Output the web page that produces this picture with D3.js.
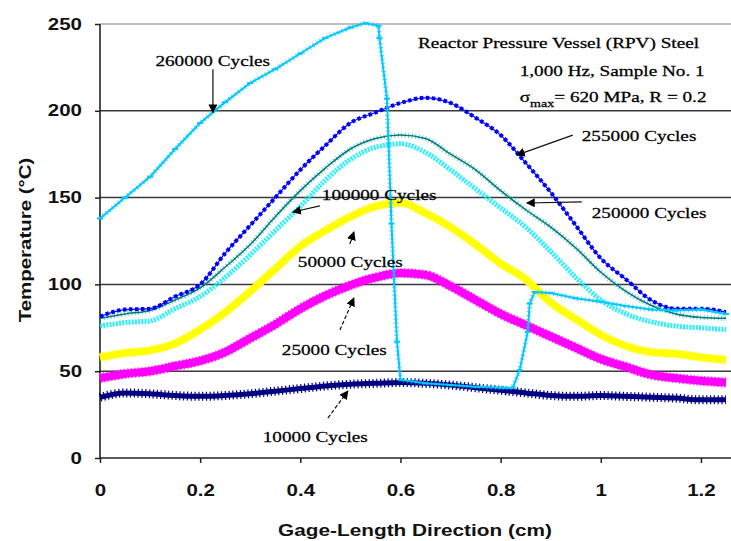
<!DOCTYPE html>
<html>
<head>
<meta charset="utf-8">
<script src="https://cdn.jsdelivr.net/npm/d3@7"></script>
<style>
  body { margin: 0; background: #fff; }
  svg { display: block; }
  .tick text { font-family: "Liberation Sans", Arial, sans-serif; font-weight: bold; font-size: 16px; fill: #111; }
  .axis-title { font-family: "Liberation Sans", Arial, sans-serif; font-weight: bold; font-size: 16px; fill: #111; }
  .note { font-family: "Liberation Serif", "Times New Roman", serif; font-size: 15px; fill: #000; stroke: #000; stroke-width: 0.25; }
</style>
</head>
<body>
<div id="chart"></div>
<script>
// (DATA) gage-length position in cm, shared by the smooth series
var xs = [0, 0.05, 0.1, 0.15, 0.2, 0.25, 0.3, 0.35, 0.4, 0.45, 0.5, 0.55, 0.6,
          0.65, 0.7, 0.75, 0.8, 0.85, 0.9, 0.95, 1.0, 1.05, 1.1, 1.15, 1.2, 1.25];

// temperature (C) for each number of cycles
var t10000  = [35, 37.5, 37, 36, 35.5, 36, 37, 38.5, 40, 41.5, 42.5, 43, 43.5,
               43, 42, 40.5, 39, 37.5, 36, 35.5, 36, 35.5, 35, 34.5, 33.5, 33.5];
var t25000  = [46, 48.5, 50, 53, 56, 61, 69, 77, 86, 93.5, 99.5, 104, 106.5,
               105.5, 99, 91, 83, 76.5, 70, 63.5, 57, 52.5, 48, 46, 44.5, 43.5];
var t50000  = [58, 60.5, 62, 66, 74, 84, 96, 109, 122, 131, 139, 145, 147,
               141, 133, 123, 112, 103, 89.5, 80, 71, 64.5, 61, 60, 58, 56.5];
var t100000 = [76, 78, 79, 86, 93, 104, 117, 131, 145, 160, 172, 179, 181,
               176, 166, 155, 144, 133, 119, 104, 91, 83, 78.5, 76, 75, 74];
var t250000 = [80.5, 83, 85, 91, 98, 110, 123, 139, 154, 167, 178, 184, 186,
               184, 175, 166, 154, 143, 133, 121, 107, 96, 88, 83, 81, 80.5];
var t255000 = [81.5, 85.5, 86, 93, 100, 118, 134, 150, 166, 180, 193, 199, 204.5,
               207.5, 204.5, 196, 186, 170, 153, 134, 115, 103, 91, 86, 86, 84];

// the last run has its own positions (sharp drop in the middle)
var x260000 = [0, 0.05, 0.1, 0.15, 0.2, 0.25, 0.3, 0.35, 0.4, 0.45, 0.5, 0.53, 0.556,
               0.558, 0.573, 0.582, 0.593, 0.6, 0.65, 0.7, 0.75, 0.8, 0.824, 0.838,
               0.854, 0.858, 0.868, 0.9, 0.95, 1.0, 1.05, 1.1, 1.15, 1.2, 1.25];
var t260000 = [138, 150, 162, 178, 193, 205, 216, 224, 233, 242, 248, 250.5, 249,
               242, 207, 135, 67, 45, 43, 42, 41, 40.5, 40.3, 50.7,
               72.6, 89, 95.6, 95, 92, 90, 87.5, 85.5, 85, 85.5, 83];

// tick values
var xTicks = [0, 0.2, 0.4, 0.6, 0.8, 1, 1.2];
var yTicks = [0, 50, 100, 150, 200, 250];

// labels: [text, label x, label y, arrow from x, from y, to x, to y]
var labels = [
  ["260000 Cycles", 0.225, 225.8, 0.2255, 224, 0.2255, 199, "c"],
  ["255000 Cycles", 0.962, 182.6, 0.944, 186, 0.832, 174.5, "s"],
  ["250000 Cycles", 0.982, 138.2, 0.962, 147.5, 0.852, 146.9, "s"],
  ["100000 Cycles", 0.443, 148.6, 0.439, 145.2, 0.385, 141.7, "s"],
  ["50000 Cycles",  0.395, 110,   0.499, 123.3, 0.507, 130.2, "s"],
  ["25000 Cycles",  0.363, 59.3,  0.479, 73.7,  0.507, 92.2,  "s"],
  ["10000 Cycles",  0.325, 9.2,   0.455, 23,    0.495, 38.6,  "s"]
];

function init() {
    var w = 731, h = 541;
    var left = 100, right = 731, top = 24, bottom = 458;
    var sx = 1.28; // the picture is stretched sideways

    var xScale = d3.scaleLinear().domain([0, 1.26]).range([left, right]);
    var yScale = d3.scaleLinear().domain([0, 250]).range([bottom, top]);

    var svg = d3.select("#chart").append("svg")
        .attr("width", w).attr("height", h)
        .style("background", "#fff");

    var defs = svg.append("defs");
    defs.append("marker")
        .attr("id", "arrow")
        .attr("viewBox", "0 0 10 10")
        .attr("refX", 9).attr("refY", 5)
        .attr("markerWidth", 9).attr("markerHeight", 9)
        .attr("markerUnits", "userSpaceOnUse")
        .attr("orient", "auto")
        .append("path").attr("d", "M0,0 L10,5 L0,10 z").attr("fill", "#000");

    // (GRID)
    svg.append("g").selectAll("line")
        .data(yTicks.filter(function(d) { return d > 0; }))
        .enter().append("line")
        .attr("x1", left).attr("x2", right)
        .attr("y1", function(d) { return yScale(d); })
        .attr("y2", function(d) { return yScale(d); })
        .attr("stroke", function(d) { return d === 250 ? "#a8a8a8" : "#3a3a3a"; })
        .attr("stroke-width", 1.5);

    // (AXES)
    var xAxis = d3.axisBottom(xScale).tickValues(xTicks).tickFormat(String)
        .tickSize(5).tickPadding(22);
    var gx = svg.append("g")
        .attr("transform", "translate(0," + bottom + ")")
        .call(xAxis);
    gx.selectAll(".tick text").attr("transform", "scale(" + sx + ",1)");

    var yAxis = d3.axisLeft(yScale).tickValues(yTicks).tickFormat(String)
        .tickSize(5).tickPadding(13);
    var gy = svg.append("g")
        .attr("transform", "translate(" + left + ",0)")
        .call(yAxis);
    gy.selectAll(".tick text")
        .attr("x", -18 / sx)
        .attr("transform", "scale(" + sx + ",1)");

    [gx, gy].forEach(function(g) {
        g.select(".domain").attr("stroke", "#222").attr("stroke-width", 1.6);
        g.selectAll(".tick line").attr("stroke", "#222").attr("stroke-width", 1.5);
    });
    // axis line reaches the right edge
    gx.select(".domain").attr("d", "M" + left + ",0H" + right);
    gy.select(".domain").attr("d", "M0," + bottom + "V" + top);

    // (TITLES)
    svg.append("text").attr("class", "axis-title")
        .attr("text-anchor", "middle")
        .attr("transform", "translate(415,536) scale(1.3,1)")
        .text("Gage-Length Direction (cm)");
    svg.append("text").attr("class", "axis-title")
        .attr("text-anchor", "middle")
        .attr("transform", "translate(31,240) rotate(-90) scale(" + sx + ",1)")
        .text("Temperature (\u00B0C)");

    // (LINES)
    var line = d3.line()
        .x(function(d) { return xScale(d[0]); })
        .y(function(d) { return yScale(d[1]); })
        .curve(d3.curveMonotoneX);
    var sharp = d3.line()
        .x(function(d) { return xScale(d[0]); })
        .y(function(d) { return yScale(d[1]); });

    function pairs(xv, yv) {
        return xv.map(function(x, i) { return [x, yv[i]]; });
    }
    function draw(data, gen, color, width, dash, opacity) {
        svg.append("path")
            .datum(data)
            .attr("d", gen)
            .attr("fill", "none")
            .attr("stroke", color)
            .attr("stroke-width", width)
            .attr("stroke-dasharray", dash || null)
            .attr("stroke-opacity", opacity || 1)
            .attr("stroke-linejoin", "round");
    }

    var s1 = pairs(xs, t10000), s2 = pairs(xs, t25000), s3 = pairs(xs, t50000),
        s4 = pairs(xs, t100000), s5 = pairs(xs, t250000), s6 = pairs(xs, t255000),
        s7 = pairs(x260000, t260000);

    draw(s1, line, "#000080", 5);
    draw(s1, line, "#000080", 9, "1.2,2.6");
    draw(s2, line, "#ff00ff", 8);
    draw(s2, line, "#ff00ff", 10, "1.5,2", 0.8);
    draw(s3, line, "#ffff00", 7);
    draw(s3, line, "#ffff00", 9, "1.5,2", 0.9);
    draw(s4, line, "#00eeff", 5, "2,1.2", 0.85);
    draw(s5, line, "#20b8b8", 5, "1,2.5", 0.7);
    draw(s5, line, "#007a7a", 1.5);
    draw(s6, line, "#0000ff", 4, "3.5,2.5");
    draw(s6, line, "#0000ff", 1.2);
    draw(s7, sharp, "#00c8ff", 2);
    draw(s7, sharp, "#00c8ff", 5, "1,3", 0.7);

    // dash markers on the last run
    svg.append("g").selectAll("line")
        .data(s7)
        .enter().append("line")
        .attr("x1", function(d) { return xScale(d[0]) - 3; })
        .attr("x2", function(d) { return xScale(d[0]) + 3; })
        .attr("y1", function(d) { return yScale(d[1]); })
        .attr("y2", function(d) { return yScale(d[1]); })
        .attr("stroke", "#00c8ff").attr("stroke-width", 2);

    // (LABELS + ARROWS)
    labels.forEach(function(l) {
        svg.append("line")
            .attr("x1", xScale(l[3])).attr("y1", yScale(l[4]))
            .attr("x2", xScale(l[5])).attr("y2", yScale(l[6]))
            .attr("stroke", "#111").attr("stroke-width", 1.2)
            .attr("stroke-dasharray", l[0] === "25000 Cycles" || l[0] === "10000 Cycles" ? "4,2" : null)
            .attr("marker-end", "url(#arrow)");
        svg.append("text").attr("class", "note")
            .attr("text-anchor", l[7] === "c" ? "middle" : "start")
            .attr("transform", "translate(" + xScale(l[1]) + "," + yScale(l[2]) + ") scale(" + sx + ",1)")
            .text(l[0]);
    });

    // (INFO BOX TEXT)
    svg.append("text").attr("class", "note")
        .attr("transform", "translate(" + xScale(0.635) + "," + yScale(236.2) + ") scale(" + sx + ",1)")
        .text("Reactor Pressure Vessel (RPV) Steel");
    svg.append("text").attr("class", "note")
        .attr("transform", "translate(" + xScale(0.838) + "," + yScale(220) + ") scale(" + sx + ",1)")
        .text("1,000 Hz, Sample No. 1");
    var sig = svg.append("text").attr("class", "note")
        .attr("transform", "translate(" + xScale(0.838) + "," + yScale(205) + ") scale(" + sx + ",1)");
    sig.append("tspan").text("\u03C3");
    sig.append("tspan").attr("font-size", "11px").attr("dy", 5).text("max");
    sig.append("tspan").attr("dy", -5).text("= 620 MPa, R = 0.2");
}

window.onload = init;
</script>
</body>
</html>
